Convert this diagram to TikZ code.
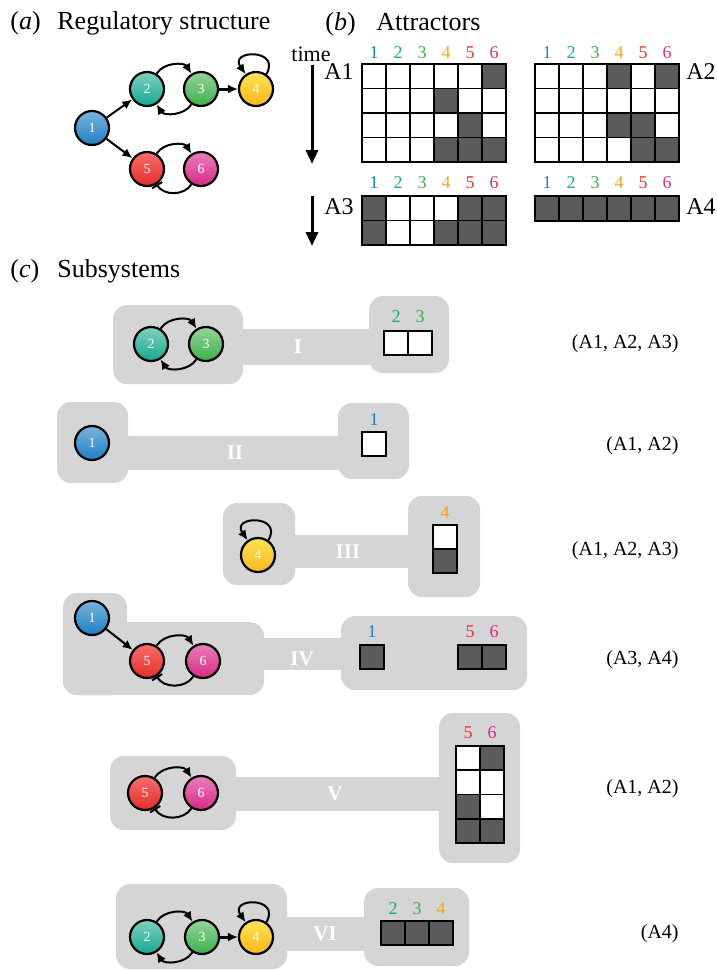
\documentclass[tikz,border=0pt]{standalone}
\usepackage{fontspec}
\setmainfont{Liberation Serif}
\usepackage{tikz}
\usetikzlibrary{positioning}
\usetikzlibrary{arrows.meta}

\definecolor{boxgray}{HTML}{D5D5D5}
\definecolor{cellgray}{HTML}{5B5B5B}
\definecolor{cone}{HTML}{1F7FC4}
\definecolor{ctwo}{HTML}{17A98F}
\definecolor{cthree}{HTML}{3DAF4A}
\definecolor{cfour}{HTML}{F5A623}
\definecolor{cfive}{HTML}{F0302C}
\definecolor{csix}{HTML}{D82A86}

\tikzset{
  gene/.style={circle, draw=black, line width=1.1pt, minimum size=17pt, inner sep=0pt,
    text=white, font=\fontsize{7}{7}\selectfont},
  gone/.style={gene, top color=cone!60!white, bottom color=cone},
  gtwo/.style={gene, top color=ctwo!55!white, bottom color=ctwo},
  gthree/.style={gene, top color=cthree!55!white, bottom color=cthree},
  gfour/.style={gene, top color=cfour!45!yellow!70!white, bottom color=cfour!80!yellow},
  gfive/.style={gene, top color=cfive!70!white, bottom color=cfive!95!black},
  gsix/.style={gene, top color=csix!60!white, bottom color=csix},
  act/.style={line width=1pt, -{Latex[length=5pt,width=4.5pt]}},
  inh/.style={line width=1pt, -{Bar[width=6pt,line width=1pt]}},
  timearr/.style={line width=1.5pt, -{Triangle[length=7pt,width=6pt]}},
  cellw/.style={draw=black, line width=0.8pt, fill=white},
  celld/.style={draw=black, line width=0.8pt, fill=cellgray},
  subbox/.style={fill=boxgray, rounded corners=7pt},
  collab/.style={inner sep=0pt, font=\fontsize{9}{9}\selectfont},
  roman/.style={inner sep=0pt, text=white, font=\bfseries\fontsize{10.5}{11}\selectfont},
  title/.style={inner sep=0pt, anchor=base west, font=\fontsize{13}{15}\selectfont},
  attname/.style={inner sep=0pt, font=\fontsize{12}{14}\selectfont},
  attset/.style={inner sep=0pt, anchor=east, font=\fontsize{10}{12}\selectfont}
}

\begin{document}
\begin{tikzpicture}[x=0.5pt,y=-0.5pt]
  \useasboundingbox (0,0) rectangle (717,970);

  %---------------- (a) regulatory structure ----------------
  \node[title] (pa) at (10,29) {(\textit{a})};
  \node[title] (ta) at (57,29) {Regulatory structure};

  \node[gone]   (a1) at (92,128)  {1};
  \node[gtwo]   (a2) at (147,89)  {2};
  \node[gthree] (a3) at (201,89)  {3};
  \node[gfour]  (a4) at (256,89)  {4};
  \node[gfive]  (a5) at (147,169) {5};
  \node[gsix]   (a6) at (201,169) {6};

  \draw[act] (a1) -- (a2);
  \draw[act] (a1) -- (a5);
  \draw[act] (a2) to[bend left=58] (a3);
  \draw[act] (a3) to[bend left=58] (a2);
  \draw[act, line width=1.5pt] (a3) -- (a4);
  \draw[act] (a4.55) .. controls +(60:15pt) and +(125:15pt) .. (a4.125);
  \draw[act] (a5) to[bend left=58] (a6);
  \draw[inh] (a6) to[bend left=58] (a5);

  %---------------- (b) attractors ----------------
  \node[title] (pb) at (325,30) {(\textit{b})};
  \node[title] (tb) at (376,30) {Attractors};

  \node[attname, font=\fontsize{11}{13}\selectfont] (time) at (311,54) {time};
  \coordinate (tone) at (312,65);
  \coordinate (tonee) at (312,164);
  \draw[timearr] (tone) -- (tonee);
  \coordinate (ttwo) at (312,196);
  \coordinate (ttwoe) at (312,246);
  \draw[timearr] (ttwo) -- (ttwoe);

  \foreach \c/\col in {1/cone,2/ctwo,3/cthree,4/cfour,5/cfive,6/csix} {
    \node[collab, text=\col] (aonec\c) at (350+24*\c,53) {\c};
    \node[collab, text=\col] (atwoc\c) at (523+24*\c,53) {\c};
    \node[collab, text=\col] (athreec\c) at (350+24*\c,183) {\c};
    \node[collab, text=\col] (afourc\c) at (523+24*\c,183) {\c};
  }

  % A1 and A2
  \foreach \c in {1,...,6}
    \foreach \r in {1,...,4} {
      \draw[cellw] (338+24*\c,39.5+24.5*\r) rectangle +(24,24.5);
      \draw[cellw] (511+24*\c,39.5+24.5*\r) rectangle +(24,24.5);
    }
  \foreach \c/\r in {6/1,4/2,5/3,4/4,5/4,6/4}
    \draw[celld] (338+24*\c,39.5+24.5*\r) rectangle +(24,24.5);
  \foreach \c/\r in {4/1,6/1,4/3,5/3,5/4,6/4}
    \draw[celld] (511+24*\c,39.5+24.5*\r) rectangle +(24,24.5);

  % A3 and A4
  \foreach \c in {1,...,6}
    \foreach \r in {1,2}
      \draw[cellw] (338+24*\c,171.5+24.5*\r) rectangle +(24,24.5);
  \foreach \c/\r in {1/1,5/1,6/1,1/2,4/2,5/2,6/2}
    \draw[celld] (338+24*\c,171.5+24.5*\r) rectangle +(24,24.5);
  \foreach \c in {1,...,6}
    \draw[celld] (511+24*\c,196) rectangle +(24,25);

  \node[attname, anchor=east] (lone) at (354,72) {A1};
  \node[attname, anchor=west] (ltwo) at (686,72) {A2};
  \node[attname, anchor=east] (lthree) at (354,207) {A3};
  \node[attname, anchor=west] (lfour) at (686,207) {A4};

  %---------------- (c) subsystems ----------------
  \node[title] (pc) at (10,277) {(\textit{c})};
  \node[title] (tc) at (57,277) {Subsystems};

  % I
  \fill[subbox] (113,305) rectangle (243,384);
  \fill[boxgray] (240,329) rectangle (372,365);
  \fill[subbox] (369,296) rectangle (449,373);
  \node[gtwo]   (s1n2) at (151,344) {2};
  \node[gthree] (s1n3) at (206,344) {3};
  \draw[act] (s1n2) to[bend left=58] (s1n3);
  \draw[act] (s1n3) to[bend left=58] (s1n2);
  \node[roman] (rI) at (298,347) {I};
  \draw[cellw] (384,331) rectangle +(24,24);
  \draw[cellw] (408,331) rectangle +(24,24);
  \node[collab, text=ctwo] (s1c2) at (396,317) {2};
  \node[collab, text=cthree] (s1c3) at (420,317) {3};
  \node[attset] (s1set) at (679,344) {(A1, A2, A3)};

  % II
  \fill[subbox] (57,402) rectangle (128,483);
  \fill[boxgray] (125,436) rectangle (341,470);
  \fill[subbox] (338,403) rectangle (409,479);
  \node[gone] (s2n1) at (92,443) {1};
  \node[roman] (rII) at (235,453) {II};
  \draw[cellw] (362,432) rectangle +(24,24);
  \node[collab, text=cone] (s2c1) at (374,420) {1};
  \node[attset] (s2set) at (679,446) {(A1, A2)};

  % III
  \fill[subbox] (223,503) rectangle (295,585);
  \fill[boxgray] (292,535) rectangle (411,568);
  \fill[subbox] (408,496) rectangle (480,597);
  \node[gfour] (s3n4) at (258,555) {4};
  \draw[act] (s3n4.55) .. controls +(60:15pt) and +(125:15pt) .. (s3n4.125);
  \node[roman] (rIII) at (348,552) {III};
  \draw[cellw] (433,525) rectangle +(24,24);
  \draw[celld] (433,549) rectangle +(24,24);
  \node[collab, text=cfour] (s3c4) at (445,513) {4};
  \node[attset] (s3set) at (679,551) {(A1, A2, A3)};

  % IV
  \fill[subbox] (63,593) rectangle (127,695);
  \fill[subbox] (63,622) rectangle (264,695);
  \fill[boxgray] (261,638) rectangle (344,670);
  \fill[subbox] (341,616) rectangle (527,690);
  \node[gone]  (s4n1) at (92,618)  {1};
  \node[gfive] (s4n5) at (147,661) {5};
  \node[gsix]  (s4n6) at (203,661) {6};
  \draw[act] (s4n1) -- (s4n5);
  \draw[act] (s4n5) to[bend left=58] (s4n6);
  \draw[inh] (s4n6) to[bend left=58] (s4n5);
  \node[roman] (rIV) at (302,659) {IV};
  \draw[celld] (360,645) rectangle +(24,24);
  \draw[celld] (458,645) rectangle +(24,24);
  \draw[celld] (482,645) rectangle +(24,24);
  \node[collab, text=cone] (s4c1) at (372,632) {1};
  \node[collab, text=cfive] (s4c5) at (470,632) {5};
  \node[collab, text=csix] (s4c6) at (494,632) {6};
  \node[attset] (s4set) at (679,660) {(A3, A4)};

  % V
  \fill[subbox] (110,756) rectangle (236,830);
  \fill[boxgray] (233,777) rectangle (442,811);
  \fill[subbox] (439,713) rectangle (520,863);
  \node[gfive] (s5n5) at (145,793) {5};
  \node[gsix]  (s5n6) at (201,793) {6};
  \draw[act] (s5n5) to[bend left=58] (s5n6);
  \draw[inh] (s5n6) to[bend left=58] (s5n5);
  \node[roman] (rV) at (335,794) {V};
  \foreach \c in {1,2}
    \foreach \r in {1,...,4}
      \draw[cellw] (432+24*\c,721.75+24.25*\r) rectangle +(24,24.25);
  \foreach \c/\r in {2/1,1/3,1/4,2/4}
    \draw[celld] (432+24*\c,721.75+24.25*\r) rectangle +(24,24.25);
  \node[collab, text=cfive] (s5c5) at (468,733) {5};
  \node[collab, text=csix] (s5c6) at (492,733) {6};
  \node[attset] (s5set) at (679,789) {(A1, A2)};

  % VI
  \fill[subbox] (116,884) rectangle (287,969);
  \fill[boxgray] (284,917) rectangle (367,951);
  \fill[subbox] (364,888) rectangle (469,966);
  \node[gtwo]   (s6n2) at (147,937) {2};
  \node[gthree] (s6n3) at (202,937) {3};
  \node[gfour]  (s6n4) at (256,937) {4};
  \draw[act] (s6n2) to[bend left=58] (s6n3);
  \draw[act] (s6n3) to[bend left=58] (s6n2);
  \draw[act, line width=1.5pt] (s6n3) -- (s6n4);
  \draw[act] (s6n4.55) .. controls +(60:15pt) and +(125:15pt) .. (s6n4.125);
  \node[roman] (rVI) at (325,934) {VI};
  \draw[celld] (381,921) rectangle +(24,24);
  \draw[celld] (405,921) rectangle +(24,24);
  \draw[celld] (429,921) rectangle +(24,24);
  \node[collab, text=ctwo] (s6c2) at (393,909) {2};
  \node[collab, text=cthree] (s6c3) at (417,909) {3};
  \node[collab, text=cfour] (s6c4) at (441,909) {4};
  \node[attset] (s6set) at (679,934) {(A4)};
\end{tikzpicture}
\end{document}
